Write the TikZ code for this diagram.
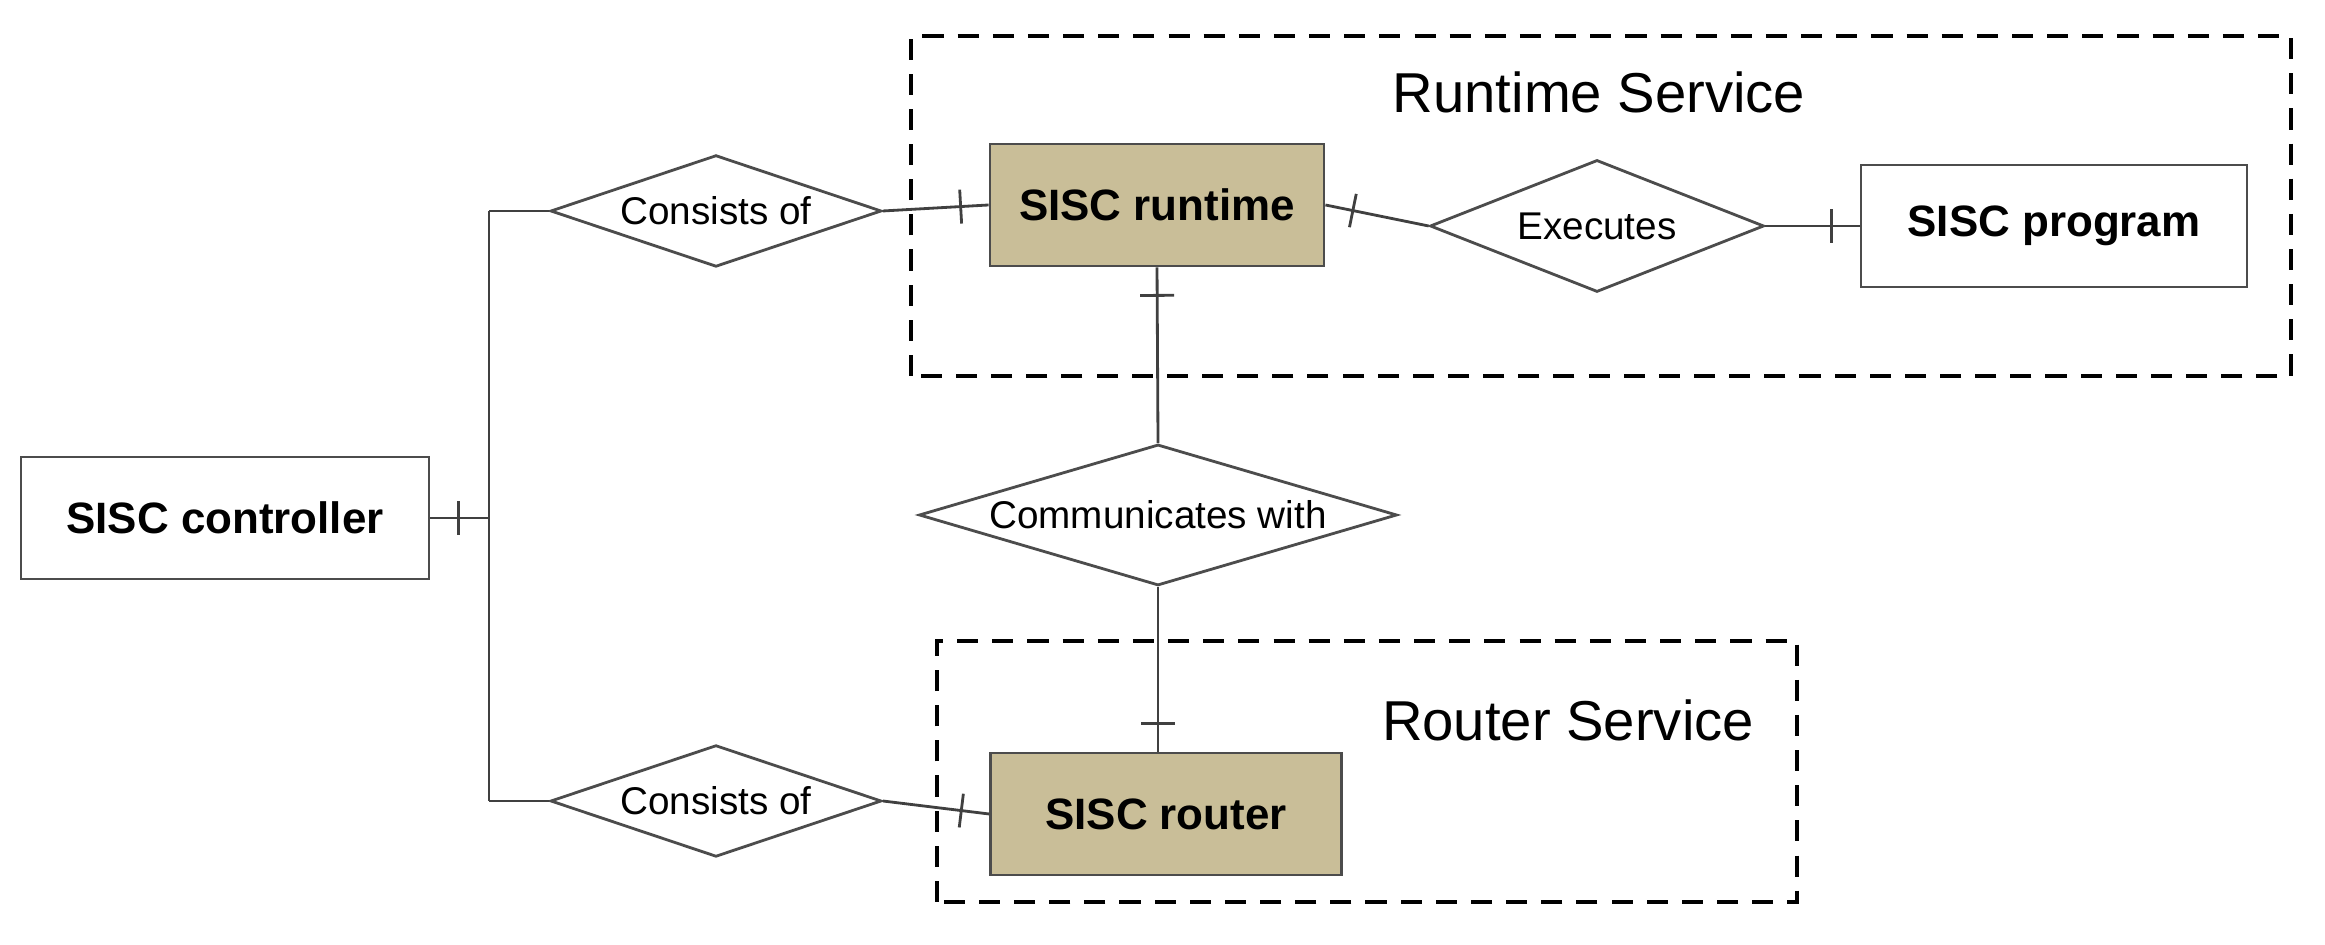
\documentclass[tikz,border=0pt]{standalone}
\usepackage{fontspec}
\setmainfont{Liberation Sans}
\usetikzlibrary{shapes.geometric,decorations.markings}
\definecolor{tan}{RGB}{201,190,152}
\tikzset{
  entity/.style={draw=black!70,thick,minimum width=#1,minimum height=1.22cm,font=\fontsize{12.5}{15}\selectfont\bfseries},
  rel/.style={diamond,aspect=2.6,draw=black!70,thick,inner sep=1pt,font=\fontsize{11}{13}\selectfont},
  group/.style={draw,dashed,very thick,dash pattern=on 6pt off 4pt},
  link/.style={draw=black!75,thick},
  tickend/.style={postaction={decorate,decoration={markings,mark=at position -0.28cm with {\draw[thick] (0,-0.17)--(0,0.17);}}}},
  tickstart/.style={postaction={decorate,decoration={markings,mark=at position 0.28cm with {\draw[thick] (0,-0.17)--(0,0.17);}}}}
}
\begin{document}
\begin{tikzpicture}
\useasboundingbox (0,0) rectangle (23.25,9.45);
%GROUPS
\draw[group] (9.11,5.69) rectangle (22.91,9.09);
\draw[group] (9.37,0.43) rectangle (17.97,3.04);
\node[font=\fontsize{16}{19}\selectfont] (rtlabel) at (15.99,8.53) {Runtime Service};
\node[font=\fontsize{16}{19}\selectfont] (rolabel) at (15.68,2.25) {Router Service};

%NODE
\node[entity=4.08cm] (ctrl) at (2.25,4.27) {SISC controller};
\node[entity=3.34cm,fill=tan] (rt) at (11.57,7.40) {SISC runtime};
\node[entity=3.86cm] (prog) at (20.54,7.19) {SISC program};
\node[entity=3.51cm,fill=tan] (rtr) at (11.66,1.31) {SISC router};
\node[rel,minimum width=3.31cm,minimum height=1.02cm] (cons1) at (7.16,7.34) {Consists of};
\node[rel,minimum width=3.31cm,minimum height=1.02cm] (cons2) at (7.16,1.44) {Consists of};
\node[rel,minimum width=3.34cm,minimum height=1.32cm] (exec) at (15.97,7.19) {Executes};
\node[rel,minimum width=4.78cm,minimum height=1.41cm,aspect=3.4] (comm) at (11.58,4.30) {Communicates with};
\coordinate (trunk) at (4.89,4.27);
\coordinate (ttop) at (4.89,7.34);
\coordinate (tbot) at (4.89,1.44);

%EDGE
\draw[link,tickstart] (ctrl.east) -- (trunk);
\draw[link] (ttop) -- (tbot);
\draw[link] (ttop) -- (cons1.west);
\draw[link] (tbot) -- (cons2.west);
\draw[link,tickend] (cons1.east) -- (rt.west);
\draw[link,tickend] (cons2.east) -- (rtr.west);
\draw[link,tickstart] (rt.east) -- (exec.west);
\draw[link,tickend] (exec.east) -- (prog.west);
\draw[link,tickstart] (rt.south) -- (comm.north);
\draw[link,tickend] (comm.south) -- (rtr.north-|comm.south);
\end{tikzpicture}
\end{document}
